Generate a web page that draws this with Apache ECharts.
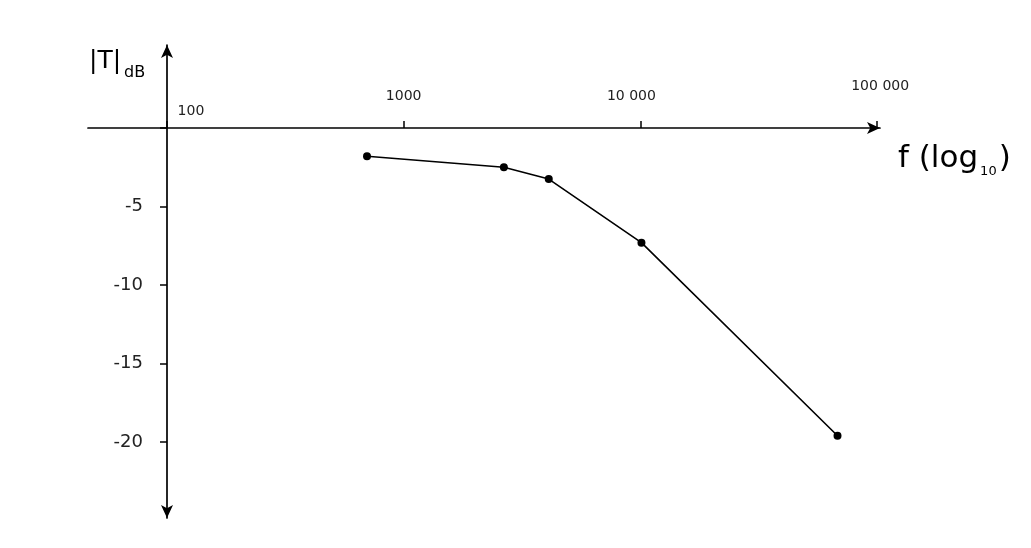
<!DOCTYPE html>
<html>
<head>
<meta charset="utf-8">
<script src="https://cdn.jsdelivr.net/npm/echarts@6/dist/echarts.min.js"></script>
<style>html,body{margin:0;padding:0;background:#fff}#c{width:1031px;height:548px}</style>
</head>
<body>
<div id="c"></div>
<script>
// Data
const freqs = [700, 2650, 4100, 10100, 68000];        // Hz
const gainDb = [-1.8, -2.5, -3.25, -7.3, -19.6];      // |T| in dB
const xTickValues = [100, 1000, 10000, 100000];
const xTickLabels = ['100', '1000', '10 000', '100 000'];
const yTickValues = [-5, -10, -15, -20];
const yTickLabels = ['-5', '-10', '-15', '-20'];

const chart = echarts.init(document.getElementById('c'));
const labelMap = {};
xTickValues.forEach((v, i) => labelMap[v] = xTickLabels[i]);
const yLabelMap = {};
yTickValues.forEach((v, i) => yLabelMap[v] = yTickLabels[i]);

chart.setOption({
  backgroundColor: '#fff',
  animation: false,
  textStyle: { fontFamily: 'DejaVu Sans' },
  title: [
    {
      text: '{a||T|}{b|dB}',
      left: 84, top: 36,
      textStyle: {
        rich: {
          a: { fontSize: 25, color: '#000', fontFamily: 'DejaVu Sans', fontWeight: 'normal' },
          b: { fontSize: 16, color: '#000', fontFamily: 'DejaVu Sans', fontWeight: 'normal', padding: [24, 0, 0, 3] }
        }
      }
    },
    {
      text: '{a|f (log}{b|10}{a|)}',
      left: 893, top: 134,
      textStyle: {
        rich: {
          a: { fontSize: 31, color: '#000', fontFamily: 'DejaVu Sans', fontWeight: 'normal' },
          b: { fontSize: 13, color: '#000', fontFamily: 'DejaVu Sans', fontWeight: 'normal', padding: [26, 2, 0, 2] }
        }
      }
    }
  ],
  grid: { left: 88, right: 151, top: 45, bottom: 30 },
  xAxis: {
    type: 'log',
    min: 46.4,
    max: 102800,
    position: 'top',
    axisLine: {
      onZero: true,
      symbol: ['none', 'arrow'],
      symbolSize: [9, 13],
      lineStyle: { color: '#000', width: 1.7 }
    },
    axisTick: { show: true, customValues: xTickValues, length: 7, lineStyle: { color: '#000', width: 1.5 } },
    axisLabel: {
      customValues: xTickValues,
      margin: -58,
      color: '#222',
      fontSize: 14,
      formatter: function (v) {
        const r = Math.round(v);
        const t = labelMap[r] || '';
        if (r === 100) return '{p|' + t + '}';
        if (r === 10000) return '{q|' + t + '}';
        if (r === 100000) return '{r|' + t + '}';
        return t;
      },
      rich: {
        p: { fontSize: 14, color: '#222', padding: [0, 0, -16, 48] },
        q: { fontSize: 14, color: '#222', padding: [0, 18, 0, 0] },
        r: { fontSize: 14, color: '#222', padding: [0, 0, 10, 6] }
      }
    },
    splitLine: { show: false }
  },
  yAxis: {
    type: 'value',
    min: -24.84,
    max: 5.29,
    offset: -79,
    axisLine: {
      onZero: false,
      symbol: ['arrow', 'arrow'],
      symbolSize: [9, 13],
      lineStyle: { color: '#000', width: 1.7 }
    },
    axisTick: { show: true, customValues: [0].concat(yTickValues), length: 7, inside: false, lineStyle: { color: '#000', width: 1.5 } },
    axisLabel: {
      customValues: yTickValues,
      margin: 24,
      color: '#222',
      fontSize: 18,
      formatter: function (v) { return yLabelMap[Math.round(v)] || ''; }
    },
    splitLine: { show: false }
  },
  series: [{
    type: 'line',
    data: freqs.map((f, i) => [f, gainDb[i]]),
    symbol: 'circle',
    symbolSize: 8,
    lineStyle: { color: '#000', width: 1.6 },
    itemStyle: { color: '#000' }
  }]
});
</script>
</body>
</html>
